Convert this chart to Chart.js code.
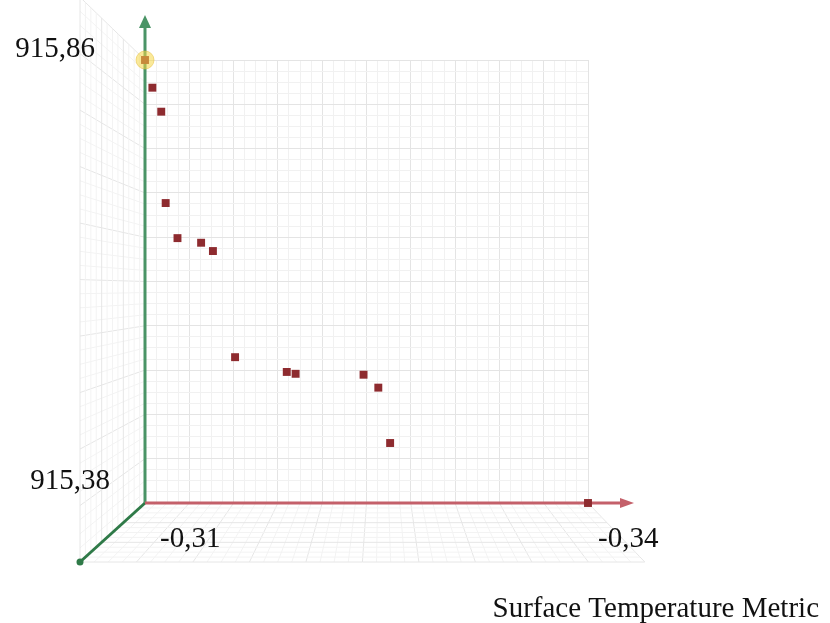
<!DOCTYPE html>
<html>
<head>
<meta charset="utf-8">
<script src="https://cdn.jsdelivr.net/npm/chart.js@4"></script>
<style>
  body { margin: 0; background: #fff; }
  #wrap { width: 830px; height: 623px; }
</style>
</head>
<body>
<div id="wrap"><canvas id="myChart"></canvas></div>
<script>
let tempMetric = [-0.3100, -0.3105, -0.3111, -0.3114, -0.3122, -0.3138, -0.3146,
                  -0.3161, -0.3196, -0.3202, -0.3248, -0.3258, -0.3266, -0.3400];
let values = [915.860, 915.830, 915.804, 915.705, 915.667, 915.662, 915.653,
              915.538, 915.522, 915.520, 915.519, 915.505, 915.445, 915.380];
let xTickLabels = ['-0,31', '-0,34'];
let yTickLabels = ['915,86', '915,38'];
let xTitle = 'Surface Temperature Metric';

let points = tempMetric.map((t, i) => ({ x: t, y: values[i] }));

let gridColor = ctx => (ctx.index % 4 === 0 ? '#e4e4e4' : '#f1f1f1');

// perspective walls + axis arrows, drawn before the points
let box3d = {
  id: 'box3d',
  beforeDatasetsDraw(chart) {
    let { ctx, chartArea: a } = chart;
    let s = 1.275;
    let F = { x: a.left - 65, y: a.bottom + 59 };
    let V = { x: (F.x - s * a.left) / (1 - s), y: (F.y - s * a.bottom) / (1 - s) };
    let front = (x, y) => [V.x + s * (x - V.x), V.y + s * (y - V.y)];
    let lerp = (p, q, t) => [p[0] + (q[0] - p[0]) * t, p[1] + (q[1] - p[1]) * t];
    let line = (p, q) => { ctx.beginPath(); ctx.moveTo(p[0], p[1]); ctx.lineTo(q[0], q[1]); ctx.stroke(); };

    ctx.save();
    ctx.lineWidth = 1;
    let xs = chart.scales.x, ys = chart.scales.y;

    // left wall
    ys.ticks.forEach((tk, i) => {
      ctx.strokeStyle = i % 4 === 0 ? '#e6e6e6' : '#f3f3f3';
      let py = ys.getPixelForValue(tk.value);
      line([a.left, py], front(a.left, py));
    });
    for (let k = 1; k <= 12; k++) {
      let t = k / 12;
      ctx.strokeStyle = k % 4 === 0 ? '#e6e6e6' : '#f3f3f3';
      line(lerp([a.left, a.top], front(a.left, a.top), t), lerp([a.left, a.bottom], front(a.left, a.bottom), t));
    }
    // floor
    xs.ticks.forEach((tk, i) => {
      ctx.strokeStyle = i % 4 === 0 ? '#e6e6e6' : '#f3f3f3';
      let px = xs.getPixelForValue(tk.value);
      line([px, a.bottom], front(px, a.bottom));
    });
    for (let k = 1; k <= 12; k++) {
      let t = k / 12;
      ctx.strokeStyle = k % 4 === 0 ? '#e6e6e6' : '#f3f3f3';
      line(lerp([a.left, a.bottom], front(a.left, a.bottom), t), lerp([a.right, a.bottom], front(a.right, a.bottom), t));
    }

    // z axis
    ctx.strokeStyle = '#2f7a48';
    ctx.lineWidth = 3;
    line([a.left, a.bottom], [F.x, F.y]);
    ctx.fillStyle = '#2f7a48';
    ctx.beginPath(); ctx.arc(F.x, F.y, 3.5, 0, Math.PI * 2); ctx.fill();

    // y axis with arrow
    ctx.strokeStyle = '#4a9466';
    ctx.fillStyle = '#4a9466';
    line([a.left, a.bottom], [a.left, 26]);
    ctx.beginPath(); ctx.moveTo(a.left, 15); ctx.lineTo(a.left - 6, 28); ctx.lineTo(a.left + 6, 28); ctx.closePath(); ctx.fill();

    // x axis with arrow
    ctx.strokeStyle = '#c4606a';
    ctx.fillStyle = '#c4606a';
    line([a.left, a.bottom], [622, a.bottom]);
    ctx.beginPath(); ctx.moveTo(634, a.bottom); ctx.lineTo(620, a.bottom - 5); ctx.lineTo(620, a.bottom + 5); ctx.closePath(); ctx.fill();
    ctx.restore();
  },
  afterDraw(chart) {
    let { ctx, chartArea: a } = chart;
    let xs = chart.scales.x, ys = chart.scales.y;
    ctx.save();
    ctx.font = '29px "Liberation Serif", "Times New Roman", serif';
    ctx.fillStyle = '#111';
    ctx.textBaseline = 'alphabetic';
    ctx.textAlign = 'right';
    ctx.fillText(yTickLabels[0], a.left - 50, ys.getPixelForValue(ys.max) - 3);
    ctx.fillText(yTickLabels[1], a.left - 35, ys.getPixelForValue(ys.min) - 14);
    ctx.textAlign = 'left';
    ctx.fillText(xTickLabels[0], xs.getPixelForValue(xs.max) + 15, a.bottom + 44);
    ctx.fillText(xTickLabels[1], xs.getPixelForValue(xs.min) + 10, a.bottom + 44);
    ctx.textAlign = 'right';
    ctx.fillText(xTitle, 819, 617);
    ctx.restore();
  }
};

let chart = new Chart(document.getElementById('myChart'), {
  type: 'scatter',
  data: {
    datasets: [
      {
        label: 'highlight',
        data: [points[0]],
        pointRadius: 9,
        pointHoverRadius: 9,
        backgroundColor: 'rgba(245, 215, 70, 0.55)',
        borderColor: 'rgba(230, 190, 60, 0.5)',
        borderWidth: 1,
        order: 0,
        clip: false
      },
      {
        label: xTitle,
        data: points,
        pointStyle: 'rect',
        pointRadius: 5.6,
        backgroundColor: '#8e2b2f',
        borderColor: '#8e2b2f',
        borderWidth: 0,
        order: 1,
        clip: false
      }
    ]
  },
  options: {
    responsive: true,
    maintainAspectRatio: false,
    animation: false,
    layout: { padding: { left: 145, right: 242, top: 60, bottom: 120 } },
    plugins: { legend: { display: false }, tooltip: { enabled: false } },
    scales: {
      x: {
        type: 'linear',
        reverse: true,
        min: -0.34,
        max: -0.31,
        ticks: { display: false, count: 41 },
        grid: { color: gridColor, drawTicks: false },
        border: { display: false }
      },
      y: {
        type: 'linear',
        min: 915.38,
        max: 915.86,
        ticks: { display: false, count: 41 },
        grid: { color: gridColor, drawTicks: false },
        border: { display: false }
      }
    }
  },
  plugins: [box3d]
});
</script>
</body>
</html>
